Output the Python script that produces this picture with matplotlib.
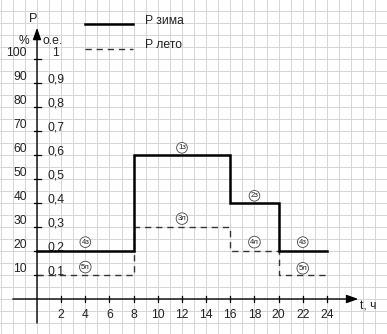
import matplotlib
matplotlib.use("Agg")
import matplotlib.pyplot as plt
import numpy as np

plt.rcParams["font.family"] = ["Liberation Sans", "DejaVu Sans"]

# step data: load in % for each period start (hours)
hours = [0, 8, 16, 20, 24]
p_winter = [20, 60, 40, 20, 20]
p_summer = [10, 30, 20, 10, 10]

x_ticks = [2, 4, 6, 8, 10, 12, 14, 16, 18, 20, 22, 24]
y_ticks_pct = [10, 20, 30, 40, 50, 60, 70, 80, 90, 100]
y_ticks_oe = ["0,1", "0,2", "0,3", "0,4", "0,5", "0,6", "0,7", "0,8", "0,9", "1"]

# circled labels: (text, hour, percent)
marks = [("1з", 12, 63), ("2з", 18, 43), ("3л", 12, 33.5), ("4л", 18, 23.7),
         ("4з", 22, 23.7), ("4з", 4, 23.7), ("5л", 4, 13.3), ("5л", 22, 12.8)]

XS, YS = 12.08, 2.4   # pixels per hour / per percent
W, H = 387, 334
x0, y0 = 37, 299      # origin in pixels

fig = plt.figure(figsize=(W / 100, H / 100), dpi=100)
ax = fig.add_axes([0, 0, 1, 1])
ax.set_xlim(-x0 / XS, (W - x0) / XS)
ax.set_ylim(-(H - y0) / YS, y0 / YS)
ax.axis("off")

# graph paper
grid_c = "#d6d6d6"
for gx in np.arange(-3, 30):
    ax.axvline(gx, color=grid_c, lw=0.7, zorder=0)
for gy in np.arange(-15, 126, 5):
    ax.axhline(gy, color=grid_c, lw=0.7, zorder=0)

# axes with arrows
ax.annotate("", xy=(0, 113), xytext=(0, -10),
            arrowprops=dict(arrowstyle="-|>,head_length=0.7,head_width=0.25",
                            color="black", lw=1.0, shrinkA=0, shrinkB=0))
ax.annotate("", xy=(26.6, 0), xytext=(-2, 0),
            arrowprops=dict(arrowstyle="-|>,head_length=0.7,head_width=0.25",
                            color="black", lw=1.0, shrinkA=0, shrinkB=0))

fs = 8.7
tc = "#222222"
for v, oe in zip(y_ticks_pct, y_ticks_oe):
    ax.plot([-0.28, 0.33], [v, v], color="black", lw=0.9)
    ax.text(-0.83, v + 2.6, str(v), ha="right", va="center", fontsize=fs, color=tc)
    if oe == "1":
        ax.text(1.5, v + 2.6, oe, ha="center", va="center", fontsize=fs, color=tc)
    else:
        ax.text(0.9, v + 1.4, oe, ha="left", va="center", fontsize=fs, color=tc)
for h in x_ticks:
    ax.plot([h, h], [-1.3, 1.3], color="black", lw=0.9)
    ax.text(h, -6.8, str(h), ha="center", va="center", fontsize=fs, color=tc)

ax.text(-0.33, 116.5, "P", ha="center", va="center", fontsize=fs + 0.5, color=tc)
ax.text(-1.08, 107.5, "%", ha="center", va="center", fontsize=fs, color=tc)
ax.text(1.32, 107.5, "о.е.", ha="center", va="center", fontsize=fs, color=tc)
ax.text(26.75, -3.3, "t, ч", ha="left", va="center", fontsize=fs, color=tc)

# load curves
ax.plot(hours, p_winter, drawstyle="steps-post", color="black", lw=1.8,
        solid_joinstyle="miter", zorder=3)
ax.plot(hours, p_summer, drawstyle="steps-post", color="#333333", lw=1.0,
        dashes=(4.5, 3.5), zorder=2)

# legend
ax.plot([3.97, 7.95], [114.6, 114.6], color="black", lw=1.8)
ax.text(8.94, 116, "P зима", ha="left", va="center", fontsize=fs, color=tc)
ax.plot([3.97, 7.95], [104.2, 104.2], color="#333333", lw=1.0, dashes=(4.5, 3.5))
ax.text(8.94, 106, "P лето", ha="left", va="center", fontsize=fs, color=tc)

for txt, h, v in marks:
    ax.text(h, v, txt, ha="center", va="center", fontsize=5.6, color=tc,
            bbox=dict(boxstyle="circle,pad=0.18", fc="white", ec="#444444", lw=0.6))

fig.savefig("out.png", dpi=100)
